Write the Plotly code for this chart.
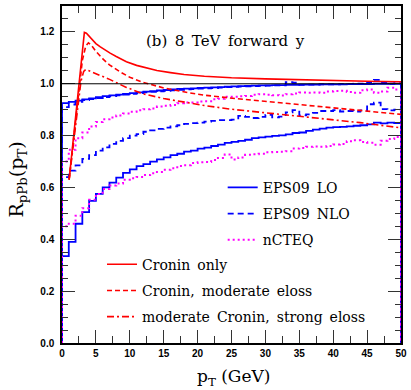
import plotly.graph_objects as go

# ---------------- data ----------------
BIN_EDGES = list(range(0, 51))  # 1 GeV bins, 0..50

eps09_lo_upper = [0.925, 0.93, 0.935, 0.94, 0.944, 0.948, 0.952, 0.955, 0.958, 0.961,
                  0.964, 0.967, 0.970, 0.972, 0.974, 0.976, 0.978, 0.980, 0.981, 0.982,
                  0.984, 0.985, 0.986, 0.987, 0.989, 0.990, 0.991, 0.992, 0.993, 0.994,
                  0.994, 0.995, 0.995, 0.996, 0.996, 0.997, 0.997, 0.997, 0.998, 0.998,
                  0.998, 0.998, 0.999, 0.999, 0.999, 0.999, 1.0, 1.0, 1.0, 1.0]
eps09_lo_lower = [0.335, 0.39, 0.46, 0.505, 0.548, 0.575, 0.600, 0.619, 0.638, 0.656,
                  0.670, 0.682, 0.690, 0.700, 0.708, 0.716, 0.725, 0.730, 0.738, 0.742,
                  0.750, 0.754, 0.760, 0.765, 0.772, 0.776, 0.780, 0.784, 0.790, 0.793,
                  0.796, 0.799, 0.801, 0.805, 0.810, 0.812, 0.818, 0.823, 0.827, 0.831,
                  0.833, 0.834, 0.836, 0.838, 0.840, 0.843, 0.850, 0.847, 0.850, 0.848]
eps09_nlo_upper = [0.91, 0.92, 0.93, 0.937, 0.941, 0.945, 0.949, 0.952, 0.955, 0.958,
                   0.961, 0.964, 0.967, 0.969, 0.971, 0.973, 0.975, 0.977, 0.978, 0.979,
                   0.981, 0.982, 0.983, 0.985, 0.987, 0.988, 0.989, 0.990, 0.991, 0.992,
                   0.993, 0.994, 0.994, 1.006, 1.004, 0.996, 0.997, 0.997, 0.998, 0.998,
                   0.998, 0.999, 0.999, 1.0, 1.0, 1.006, 1.015, 1.005, 1.0, 1.002]
eps09_nlo_lower = [0.64, 0.665, 0.685, 0.71, 0.725, 0.742, 0.755, 0.768, 0.78, 0.79,
                   0.80, 0.806, 0.815, 0.82, 0.826, 0.831, 0.836, 0.84, 0.845, 0.848,
                   0.85, 0.854, 0.857, 0.86, 0.86, 0.862, 0.876, 0.872, 0.868, 0.872,
                   0.88, 0.87, 0.873, 0.89, 0.898, 0.878, 0.882, 0.888, 0.895, 0.895,
                   0.898, 0.893, 0.895, 0.893, 0.897, 0.921, 0.927, 0.902, 0.897, 0.90]
ncteq_upper = [0.70, 0.745, 0.79, 0.812, 0.835, 0.853, 0.863, 0.870, 0.878, 0.885,
               0.892, 0.898, 0.902, 0.905, 0.912, 0.915, 0.918, 0.925, 0.928, 0.928,
               0.932, 0.933, 0.940, 0.942, 0.950, 0.950, 0.952, 0.953, 0.958, 0.960,
               0.958, 0.956, 0.955, 0.960, 0.962, 0.966, 0.965, 0.966, 0.965, 0.970,
               0.972, 0.973, 0.968, 0.965, 0.975, 0.978, 0.965, 0.970, 0.985, 0.978]
ncteq_lower = [0.45, 0.46, 0.491, 0.52, 0.553, 0.575, 0.594, 0.608, 0.615, 0.630,
               0.636, 0.640, 0.648, 0.655, 0.660, 0.668, 0.674, 0.683, 0.686, 0.694,
               0.697, 0.698, 0.706, 0.714, 0.727, 0.708, 0.716, 0.726, 0.728, 0.730,
               0.736, 0.737, 0.738, 0.740, 0.750, 0.752, 0.757, 0.758, 0.757, 0.760,
               0.766, 0.768, 0.778, 0.782, 0.775, 0.772, 0.765, 0.780, 0.787, 0.795]

cronin_pt = [1.05, 2.0, 2.8, 3.1, 3.3, 3.6, 4.0, 4.5, 5.0, 5.6, 6.3, 7.1, 8.0, 9.5,
             11, 12.5, 14, 16, 18, 21, 25, 30, 37, 45, 50]
cronin_only = [0.63, 0.875, 1.085, 1.165, 1.198, 1.195, 1.183, 1.168, 1.155, 1.143,
               1.13, 1.118, 1.105, 1.085, 1.071, 1.060, 1.051, 1.043, 1.036, 1.029,
               1.023, 1.019, 1.014, 1.010, 1.008]

mod_pt = [1.05, 2.0, 3.0, 3.5, 3.9, 4.3, 5.0, 6.1, 7.0, 8.5, 10, 12, 15, 18.6, 21,
          24.5, 30, 37, 44, 50]
cronin_mod_eloss = [0.63, 0.86, 1.09, 1.145, 1.158, 1.15, 1.125, 1.094, 1.073, 1.047,
                    1.025, 1.005, 0.984, 0.966, 0.956, 0.946, 0.932, 0.914, 0.898, 0.882]

strong_pt = [1.05, 2.0, 2.8, 3.2, 3.5, 4.0, 5.0, 6.0, 7.1, 8.5, 9.5, 12, 15, 18.6,
             21, 24.9, 30, 37.4, 44, 50]
modcronin_strong_eloss = [0.63, 0.85, 1.01, 1.048, 1.055, 1.05, 1.04, 1.028, 1.016,
                          0.998, 0.986, 0.961, 0.943, 0.927, 0.916, 0.902, 0.888,
                          0.868, 0.85, 0.83]

REF_LEVEL = 1.0
X_TICKS = [0, 5, 10, 15, 20, 25, 30, 35, 40, 45, 50]
Y_TICKS = [0.0, 0.2, 0.4, 0.6, 0.8, 1.0, 1.2]

BLUE = "#0000ff"
RED = "#ff0000"
MAGENTA = "#ff00ff"
SERIF = "DejaVu Serif"
SP = "\u2002"  # wide word gap, as in the original typesetting


def hist_xy(edges, vals):
    """Step-histogram outline that drops to zero at both ends."""
    xs = [edges[0]] + edges[:-1] + [edges[-1], edges[-1]]
    ys = [0.0] + list(vals) + [vals[-1], 0.0]
    return xs, ys


def wide(s):
    return s.replace(" ", SP)


fig = go.Figure()

hist_series = [
    ("EPS09 LO", eps09_lo_upper, BLUE, "solid", 1.8, True),
    ("EPS09 LO", eps09_lo_lower, BLUE, "solid", 1.8, False),
    ("EPS09 NLO", eps09_nlo_upper, BLUE, "6px,4px", 1.8, True),
    ("EPS09 NLO", eps09_nlo_lower, BLUE, "6px,4px", 1.8, False),
    ("nCTEQ", ncteq_upper, MAGENTA, "2px,3px", 2.0, True),
    ("nCTEQ", ncteq_lower, MAGENTA, "2px,3px", 2.0, False),
]
for name, vals, col, dash, w, show in hist_series:
    xs, ys = hist_xy(BIN_EDGES, vals)
    fig.add_trace(go.Scatter(
        x=xs, y=ys, mode="lines", name=wide(name), legend="legend",
        line=dict(color=col, dash=dash, width=w, shape="hv"),
        showlegend=show, legendgroup=name,
    ))

red_series = [
    ("Cronin only", cronin_pt, cronin_only, "solid"),
    ("Cronin, moderate eloss", mod_pt, cronin_mod_eloss, "5px,3px"),
    ("moderate Cronin, strong eloss", strong_pt, modcronin_strong_eloss, "7px,3px,2px,3px"),
]
for name, xs, ys, dash in red_series:
    fig.add_trace(go.Scatter(
        x=xs, y=ys, mode="lines", name=wide(name), legend="legend2", legendgroup=name,
        line=dict(color=RED, dash=dash, width=1.6),
    ))

fig.add_hline(y=REF_LEVEL, line=dict(color="black", width=1))

fig.add_annotation(
    x=0.482, y=0.895, xref="paper", yref="paper", showarrow=False,
    xanchor="center", yanchor="middle",
    text=wide("(b) 8 TeV forward y"), font=dict(family=SERIF, size=15, color="black"),
)
fig.add_annotation(
    x=0.507, y=-0.103, xref="paper", yref="paper", showarrow=False,
    xanchor="center", yanchor="middle",
    text="p<sub>T</sub> (GeV)", font=dict(family=SERIF, size=17, color="black"),
)
fig.add_annotation(
    x=-0.13, y=0.485, xref="paper", yref="paper", showarrow=False, textangle=-90,
    xanchor="center", yanchor="middle",
    text="R<sub>pPb</sub>(p<sub>T</sub>)", font=dict(family=SERIF, size=19, color="black"),
)

tickfont = dict(family="Liberation Sans", size=10, color="black", weight="bold")
axis_common = dict(
    showline=True, linecolor="black", linewidth=1.5, mirror="allticks",
    ticks="inside", ticklen=13, tickwidth=1.2, tickcolor="#333333",
    showgrid=False, zeroline=False, tickfont=tickfont,
)
fig.update_xaxes(range=[0, 50], tickvals=X_TICKS,
                 minor=dict(dtick=2.5, ticklen=7, ticks="inside", tickcolor="#333333", tickwidth=1.2),
                 **axis_common)
fig.update_yaxes(range=[0, 1.3], tickvals=Y_TICKS, tickformat=".1f",
                 minor=dict(dtick=0.05, ticklen=6, ticks="inside", tickcolor="#333333", tickwidth=1.2),
                 ticklabelstandoff=4,
                 **axis_common)

legend_font = dict(family=SERIF, size=14, color="black")
fig.update_layout(
    width=411, height=390,
    margin=dict(l=62, r=10, t=4, b=47),
    paper_bgcolor="white", plot_bgcolor="white",
    legend=dict(x=0.474, y=0.508, xanchor="left", yanchor="top",
                bgcolor="rgba(0,0,0,0)", font=legend_font,
                traceorder="grouped", tracegroupgap=5, itemwidth=30),
    legend2=dict(x=0.118, y=0.28, xanchor="left", yanchor="top",
                 bgcolor="rgba(0,0,0,0)", font=legend_font,
                 traceorder="grouped", tracegroupgap=5, itemwidth=30),
)

fig.write_html("out.html", config={"displayModeBar": False},
               post_script="document.body.style.margin='0';")
